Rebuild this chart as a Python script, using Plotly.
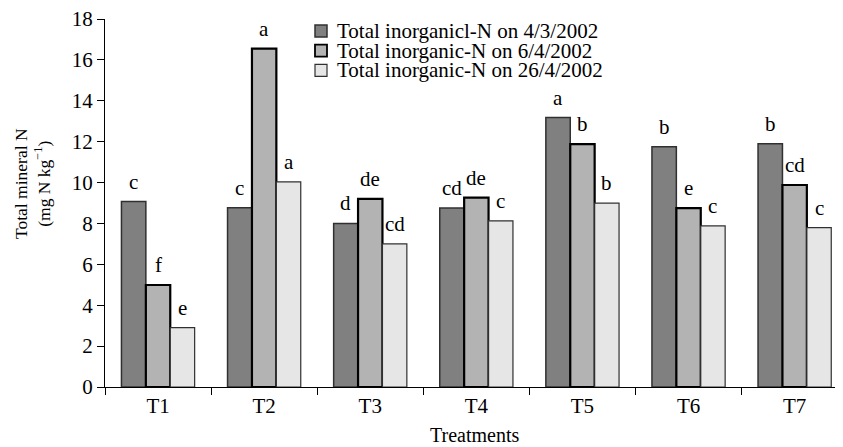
import plotly.graph_objects as go

treatments = ["T1", "T2", "T3", "T4", "T5", "T6", "T7"]
series_names = [
    "Total inorganicl-N on 4/3/2002",
    "Total inorganic-N on 6/4/2002",
    "Total inorganic-N on 26/4/2002",
]
n_march4 = [9.07, 8.77, 8.0, 8.75, 13.18, 11.75, 11.9]
n_april6 = [4.99, 16.55, 9.2, 9.26, 11.88, 8.75, 9.88]
n_april26 = [2.9, 10.03, 7.0, 8.13, 8.99, 7.88, 7.8]
letters_march4 = ["c", "c", "d", "cd", "a", "b", "b"]
letters_april6 = ["f", "a", "de", "de", "b", "e", "cd"]
letters_april26 = ["e", "a", "cd", "c", "b", "c", "c"]

series = [n_march4, n_april6, n_april26]
letters = [letters_march4, letters_april6, letters_april26]
fills = ["#808080", "#b3b3b3", "#e6e6e6"]
edges = [("#303030", 1.5), ("#000000", 2.2), ("#303030", 1.2)]

FONT = "Liberation Serif"
BARGAP = 0.31

# page has an 8px body margin, so the figure is drawn 8px in from the corner
W, H = 835, 439
L, T, B, R = 97, 11, 60, 0
PW, PH = W - L - R, H - T - B


def px_x(fx):
    return (fx - L) / PW


def px_y(fy):
    return (H - B - fy) / PH


fig = go.Figure()
for vals, name, fill, (ec, ew) in zip(series, series_names, fills, edges):
    fig.add_trace(go.Bar(
        x=treatments, y=vals, name=name, showlegend=False,
        marker=dict(color=fill, line=dict(color=ec, width=ew)),
    ))

# significance letters above each bar
w = (1 - BARGAP) / 3
for j, (vals, labs) in enumerate(zip(series, letters)):
    for i, (v, lab) in enumerate(zip(vals, labs)):
        fig.add_annotation(
            x=i + (j - 1) * w, y=v, text=lab, showarrow=False,
            yanchor="bottom", yshift=6,
            font=dict(family=FONT, size=21, color="black"),
        )

# hand-built legend (plotly's own rows are spaced too far apart)
for k, (name, fill, (ec, ew)) in enumerate(zip(series_names, fills, edges)):
    cy = 23 + 19.7 * k
    fig.add_shape(
        type="rect", xref="paper", yref="paper",
        x0=px_x(307), x1=px_x(319), y0=px_y(cy + 6), y1=px_y(cy - 6),
        fillcolor=fill, line=dict(color=ec, width=min(ew, 1.8)),
    )
    fig.add_annotation(
        x=px_x(327), y=px_y(cy), xref="paper", yref="paper",
        xanchor="left", yanchor="middle", text=name, showarrow=False,
        font=dict(family=FONT, size=21, color="black"),
    )

fig.add_annotation(
    x=px_x(24), y=px_y(176), xref="paper", yref="paper",
    xanchor="center", yanchor="middle",
    text="Total mineral N<br>(mg N kg<sup>\u22121</sup>)",
    textangle=-90, showarrow=False,
    font=dict(family=FONT, size=17.5, color="black"),
)
fig.add_annotation(
    x=0.5, y=px_y(427), xref="paper", yref="paper",
    xanchor="center", yanchor="middle", text="Treatments", showarrow=False,
    font=dict(family=FONT, size=20, color="black"),
)

fig.update_layout(
    width=W, height=H,
    margin=dict(l=L, r=R, t=T, b=B),
    paper_bgcolor="white", plot_bgcolor="white",
    barmode="group", bargap=BARGAP, bargroupgap=0,
    font=dict(family=FONT, size=21, color="black"),
    showlegend=False,
    xaxis=dict(
        range=[-0.5, -0.5 + PW / 106.1], showline=True, linecolor="black",
        linewidth=1, ticks="outside", tickson="boundaries", ticklen=7,
        tickcolor="black", showgrid=False, zeroline=False,
    ),
    yaxis=dict(
        range=[0, 18], dtick=2, showline=True, linecolor="black", linewidth=1,
        ticks="outside", ticklen=7, tickcolor="black",
        ticklabeloverflow="allow", automargin=False,
        showgrid=False, zeroline=False,
    ),
)

fig.write_html("out.html")
